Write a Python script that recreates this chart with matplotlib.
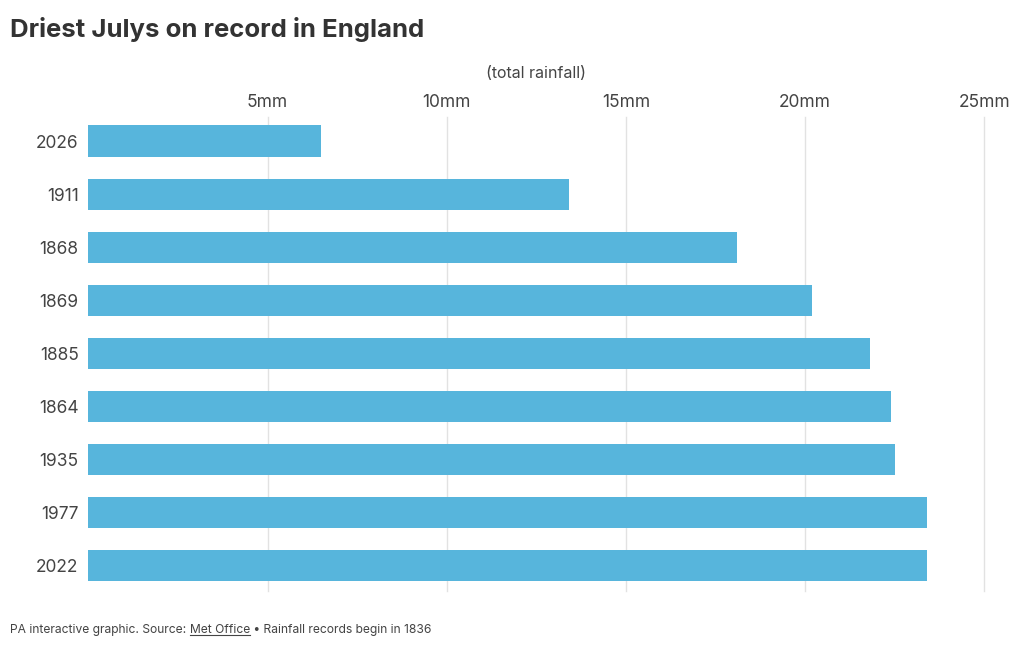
import matplotlib
matplotlib.use("Agg")
import matplotlib.pyplot as plt
from matplotlib.lines import Line2D

years = ["2026", "1911", "1868", "1869", "1885", "1864", "1935", "1977", "2022"]
rain_mm = [6.5, 13.4, 18.1, 20.2, 21.8, 22.4, 22.5, 23.4, 23.4]
tick_vals = [5, 10, 15, 20, 25]
tick_labels = ["5mm", "10mm", "15mm", "20mm", "25mm"]

BAR = "#57b5dc"
TXT = "#333333"
plt.rcParams["font.family"] = ["Inter", "DejaVu Sans"]

W, H = 1020, 650
fig = plt.figure(figsize=(W / 100, H / 100), dpi=100)
fig.patch.set_facecolor("white")
ax = fig.add_axes([88.3 / W, 1 - 591 / H, 896 / W, 474 / H])

ypos = list(range(len(years)))
ax.barh(ypos, rain_mm, height=0.6, color=BAR, zorder=2)
ax.set_xlim(0, 25)
ax.set_ylim(8.48, -0.46)

ax.set_yticks(ypos)
ax.set_yticklabels(years, fontsize=12.5, color="#444444")
ax.xaxis.tick_top()
ax.set_xticks(tick_vals)
ax.set_xticklabels(tick_labels, fontsize=12.5, color="#444444")
ax.tick_params(axis="both", length=0)
ax.tick_params(axis="y", pad=7)
ax.tick_params(axis="x", pad=4)
ax.grid(axis="x", color="#e2e2e2", linewidth=1, zorder=0)
for g in ax.get_xgridlines():
    g.set_clip_on(False)
for s in ax.spines.values():
    s.set_visible(False)

fig.text(536 / W, 1 - 73 / H, "(total rainfall)", ha="center", va="center",
         fontsize=11.5, color="#444444")
fig.text(10 / W, 1 - 29 / H, "Driest Julys on record in England", ha="left",
         va="center", fontsize=18.5, fontweight="bold", color=TXT)

# footer with underlined link text
fig.canvas.draw()
r = fig.canvas.get_renderer()
fy = 1 - 630 / H
parts = ["PA interactive graphic. Source: ", "Met Office", " \u2022 Rainfall records begin in 1836"]
x = 10 / W
for i, p in enumerate(parts):
    t = fig.text(x, fy, p, ha="left", va="center", fontsize=8.7, color="#444444")
    bb = t.get_window_extent(renderer=r)
    if i == 1:
        uy = (bb.y0 + 1) / H
        fig.add_artist(Line2D([bb.x0 / W, bb.x1 / W], [uy, uy], color="#444444",
                              linewidth=0.8, transform=fig.transFigure))
    x = bb.x1 / W

fig.savefig("out.png", dpi=100, facecolor="white")
